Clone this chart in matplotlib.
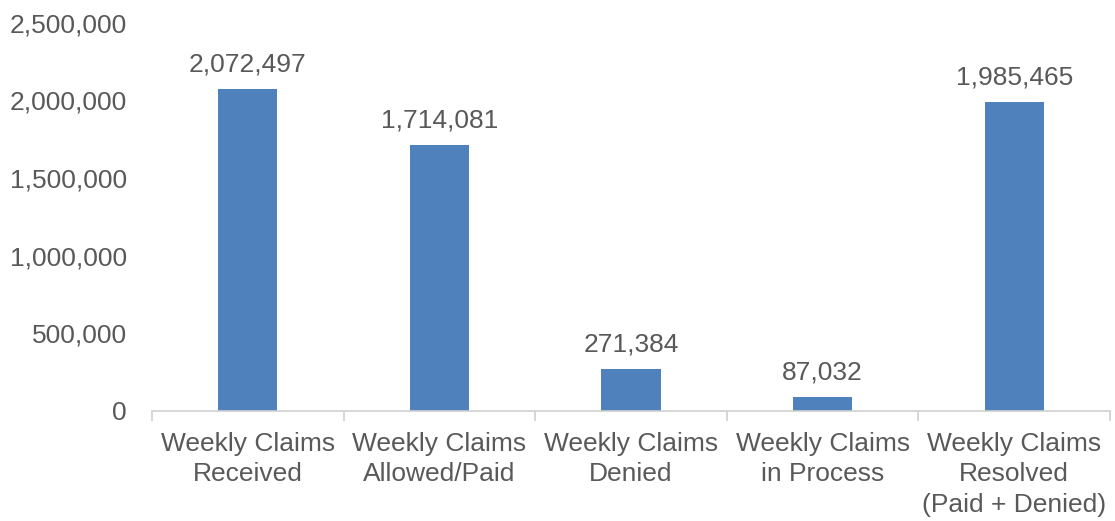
import numpy as np
import matplotlib.pyplot as plt
from matplotlib.ticker import FuncFormatter, FixedLocator

plt.rcParams['font.family'] = ['Liberation Sans', 'DejaVu Sans']

categories = ["Weekly Claims\nReceived", "Weekly Claims\nAllowed/Paid", "Weekly Claims\nDenied",
              "Weekly Claims\nin Process", "Weekly Claims\nResolved\n(Paid + Denied)"]
values = [2072497, 1714081, 271384, 87032, 1985465]
yticks = [0, 500000, 1000000, 1500000, 2000000, 2500000]

txt = '#595959'
fig = plt.figure(figsize=(11.15, 5.21), dpi=100)
ax = fig.add_axes([152/1115, 1 - 411/521, (1110 - 152)/1115, (411 - 22.5)/521])

x = np.arange(len(values))
bars = ax.bar(x, values, width=0.31, color='#4F81BD', zorder=2)
for xi, v in zip(x, values):
    ax.annotate(f"{v:,}", (xi, v), xytext=(0, 9), textcoords='offset points',
                ha='center', va='bottom', fontsize=19, color=txt)

ax.set_xlim(-0.5, len(values) - 0.5)
ax.set_ylim(0, 2500000)
ax.set_yticks(yticks)
ax.yaxis.set_major_formatter(FuncFormatter(lambda v, p: f"{int(v):,}"))
ax.tick_params(axis='y', length=0, pad=18, labelsize=19, labelcolor=txt)

ax.set_xticks(x)
ax.set_xticklabels(categories, linespacing=1.35)
ax.xaxis.set_minor_locator(FixedLocator(np.arange(-0.5, len(values), 1.0)))
ax.tick_params(axis='x', which='major', length=0, pad=15, labelsize=19, labelcolor=txt)
ax.tick_params(axis='x', which='minor', length=7, width=1.2, color='#d0d0d0')

for s in ['left', 'right', 'top']:
    ax.spines[s].set_visible(False)
ax.spines['bottom'].set_color('#d0d0d0')
ax.spines['bottom'].set_linewidth(1.2)

fig.savefig('out.png', dpi=100)
